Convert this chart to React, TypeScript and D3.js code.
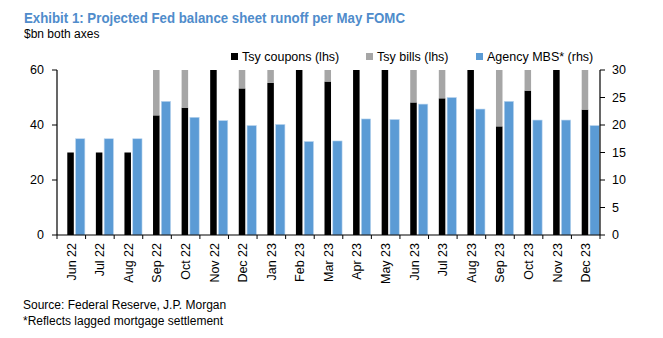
import React from "react";
import * as d3 from "d3";

const months = ["Jun 22","Jul 22","Aug 22","Sep 22","Oct 22","Nov 22","Dec 22","Jan 23","Feb 23","Mar 23","Apr 23","May 23","Jun 23","Jul 23","Aug 23","Sep 23","Oct 23","Nov 23","Dec 23"];
const tsyCoupons = [30,30,30,43.5,46.3,60,53.3,55.3,60,55.8,60,60,48.2,49.7,60,39.5,52.5,60,45.6];
const tsyBills = [0,0,0,16.5,13.7,0,6.7,4.7,0,4.2,0,0,11.8,10.3,0,20.5,7.5,0,14.4];
const agencyMBS = [17.5,17.5,17.5,24.3,21.4,20.8,19.9,20.1,17.0,17.1,21.1,21.0,23.8,25.0,22.9,24.3,20.9,20.9,19.9];
const leftTicks = [0,20,40,60];
const rightTicks = [0,5,10,15,20,25,30];

const BLACK = "#000000";
const GREY = "#a6a6a6";
const BLUE = "#5b9bd5";
const TITLE = "#4f8ccb";
const FONT = "'Liberation Sans', Arial, sans-serif";

export default function App() {
  const L = 57, R = 600, T = 70, B = 235;
  const x = d3.scaleBand<string>().domain(months).range([L, R]).padding(0);
  const yL = d3.scaleLinear().domain([0, 60]).range([B, T]);
  const yR = d3.scaleLinear().domain([0, 30]).range([B, T]);
  const bw = x.bandwidth();
  const blackOff = bw * 0.36, blackW = bw * 0.228;
  const blueOff = bw * 0.65, blueW = bw * 0.325;

  return (
    <svg width={663} height={338} style={{ position: "absolute", left: 0, top: 0, background: "#fff" }} fontFamily={FONT}>
      <text x={24} y={23} fontSize={15} fontWeight="bold" fill={TITLE} textLength={381} lengthAdjust="spacingAndGlyphs">Exhibit 1: Projected Fed balance sheet runoff per May FOMC</text>
      <text x={24} y={38} fontSize={12} fill="#000">$bn both axes</text>

      {/* legend */}
      <rect x={231} y={53} width={7} height={7} fill={BLACK} />
      <text x={242} y={61} fontSize={12.5}>Tsy coupons (lhs)</text>
      <rect x={366} y={53} width={7} height={7} fill={GREY} />
      <text x={377} y={61} fontSize={12.5}>Tsy bills (lhs)</text>
      <rect x={476} y={53} width={7} height={7} fill={BLUE} />
      <text x={487} y={61} fontSize={12.5}>Agency MBS* (rhs)</text>

      {/* bars */}
      {months.map((m, i) => {
        const x0 = x(m) as number;
        return (
          <g key={m}>
            <rect x={x0 + blackOff} y={yL(tsyCoupons[i])} width={blackW} height={yL(0) - yL(tsyCoupons[i])} fill={BLACK} />
            {tsyBills[i] > 0 && (
              <rect x={x0 + blackOff} y={yL(tsyCoupons[i] + tsyBills[i])} width={blackW} height={yL(tsyCoupons[i]) - yL(tsyCoupons[i] + tsyBills[i])} fill={GREY} />
            )}
            <rect x={x0 + blueOff} y={yR(agencyMBS[i])} width={blueW} height={yR(0) - yR(agencyMBS[i])} fill={BLUE} stroke="#bcd6ef" strokeWidth={0.6} />
          </g>
        );
      })}

      {/* left axis */}
      <line x1={L} x2={L} y1={T} y2={B} stroke="#000" strokeWidth={1.2} />
      {leftTicks.map(t => (
        <g key={"l" + t}>
          <line x1={L - 5} x2={L} y1={yL(t)} y2={yL(t)} stroke="#000" strokeWidth={1} />
          <text x={L - 13} y={yL(t)} dy="0.35em" textAnchor="end" fontSize={12.5}>{t}</text>
        </g>
      ))}

      {/* right axis */}
      <line x1={R} x2={R} y1={T} y2={B} stroke="#000" strokeWidth={1.2} />
      {rightTicks.map(t => (
        <g key={"r" + t}>
          <line x1={R} x2={R + 5} y1={yR(t)} y2={yR(t)} stroke="#000" strokeWidth={1} />
          <text x={R + 12} y={yR(t)} dy="0.35em" textAnchor="start" fontSize={12.5}>{t}</text>
        </g>
      ))}

      {/* bottom axis */}
      <line x1={L} x2={R} y1={B} y2={B} stroke="#000" strokeWidth={1.2} />
      {[...months.map(m => x(m) as number), R].map((px, i) => (
        <line key={"bt" + i} x1={px} x2={px} y1={B} y2={B + 4} stroke="#000" strokeWidth={1} />
      ))}
      {months.map(m => {
        const cx = (x(m) as number) + bw / 2;
        return (
          <text key={"xl" + m} transform={`translate(${cx},${B + 8}) rotate(-90)`} textAnchor="end" dy="0.35em" fontSize={12.5}>{m}</text>
        );
      })}

      <text x={23} y={309} fontSize={12}>Source: Federal Reserve, J.P. Morgan</text>
      <text x={23} y={325} fontSize={12}>*Reflects lagged mortgage settlement</text>
    </svg>
  );
}
